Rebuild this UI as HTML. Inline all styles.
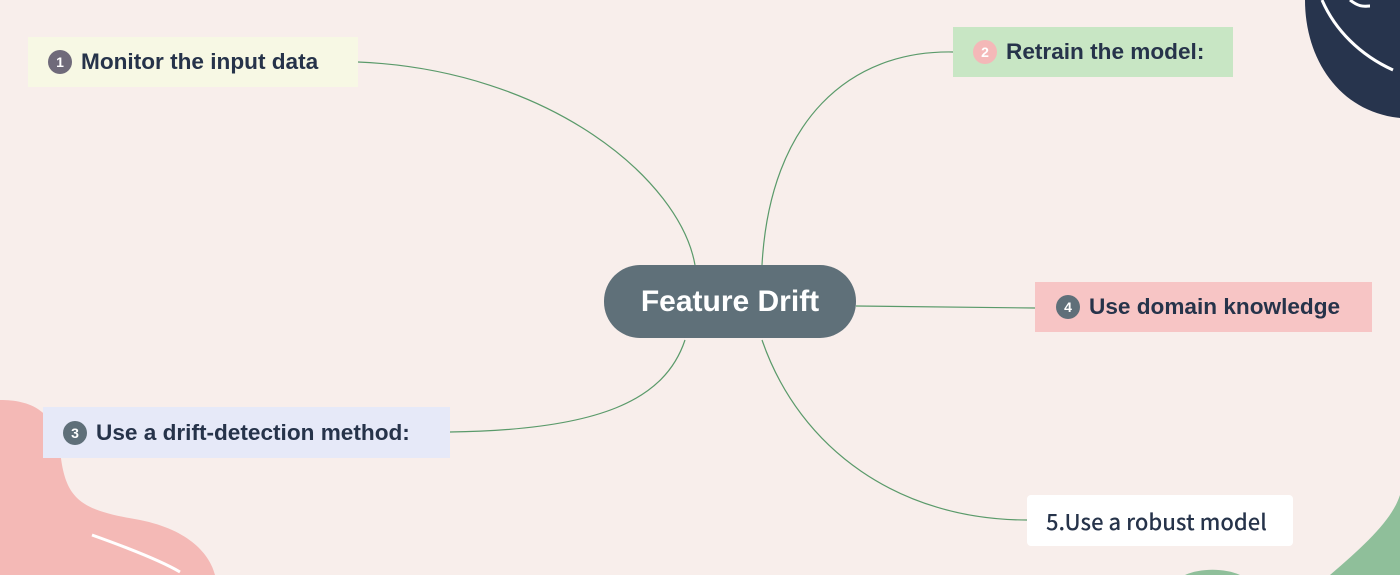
<!DOCTYPE html>
<html><head><style>
body{margin:0;width:1400px;height:575px;overflow:hidden;background:#f8eeeb;position:relative;font-family:"Liberation Sans",sans-serif}
.b{position:absolute;box-sizing:border-box;display:flex;align-items:center;color:#26334a;font-weight:bold;font-size:22.6px}
.c{width:24px;height:24px;border-radius:50%;color:#fff;font-size:14px;display:flex;align-items:center;justify-content:center;margin-right:9px;flex:none}
</style></head><body>
<svg width="1400" height="575" style="position:absolute;left:0;top:0">
<path d="M1305 0 C1305 60 1340 112 1400 118 L1400 0 Z" fill="#27344d"/>
<path d="M1322 0 C1335 30 1360 55 1393 70" stroke="#fff" stroke-width="3" fill="none"/>
<path d="M1350 0 C1360 8 1365 6 1370 6" stroke="#fff" stroke-width="3" fill="none"/>
<path d="M0 400 C30 400 55 410 60 450 C65 500 80 510 140 520 C190 530 210 555 215 575 L0 575Z" fill="#f4b9b6"/>
<path d="M92 535 C120 545 160 560 180 572" stroke="#fff" stroke-width="3" fill="none"/>
<path d="M1330 575 C1365 545 1392 520 1400 495 L1400 575 Z" fill="#8fbf9a"/>
<path d="M1185 575 C1200 568 1225 568 1240 575 Z" fill="#8fbf9a"/>
<g stroke="#5a9a6a" stroke-width="1.2" fill="none">
<path d="M358 62 C550 70 680 180 695 265"/>
<path d="M953 52 C850 50 770 120 762 265"/>
<path d="M450 432 C600 430 665 400 685 340"/>
<path d="M856 306 L1035 308"/>
<path d="M762 340 C800 450 900 520 1027 520"/>
</g>
</svg>
<div class="b" style="left:28px;top:37px;width:330px;height:50px;background:#f7f8e4;padding-left:20px"><span class="c" style="background:#6f6a7a">1</span>Monitor the input data</div>
<div class="b" style="left:953px;top:27px;width:280px;height:50px;background:#c8e6c4;padding-left:20px"><span class="c" style="background:#f4b8b8">2</span>Retrain the model:</div>
<div class="b" style="left:43px;top:407px;width:407px;height:51px;background:#e6e9f8;padding-left:20px"><span class="c" style="background:#5f6f79">3</span>Use a drift-detection method:</div>
<div class="b" style="left:1035px;top:282px;width:337px;height:50px;background:#f7c5c5;padding-left:21px"><span class="c" style="background:#5f6f79">4</span>Use domain knowledge</div>
<div class="b" style="left:1027px;top:495px;width:266px;height:51px;background:#fff;border-radius:4px;padding-left:19px;font-weight:500;font-size:22px;font-family:'Noto Sans CJK SC','Liberation Sans',sans-serif">5.Use a robust model</div>
<div class="b" style="left:604px;top:265px;width:252px;height:73px;background:#5f7079;border-radius:36px;justify-content:center;color:#fff;font-size:30px">Feature Drift</div>
</body></html>
